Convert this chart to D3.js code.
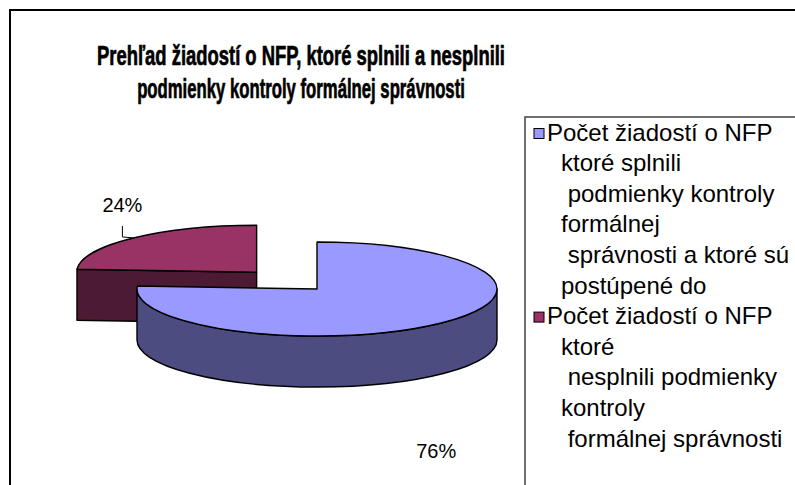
<!DOCTYPE html>
<html>
<head>
<meta charset="utf-8">
<script src="https://cdn.jsdelivr.net/npm/d3@7"></script>
<style>
  html, body { margin: 0; padding: 0; background: #fff; }
  svg { display: block; }
  text { font-family: "Liberation Sans", Arial, sans-serif; }
</style>
</head>
<body>
<svg id="chart" width="795" height="485"></svg>
<script>
// ---- data ----
const titleLines = [
  "Prehľad žiadostí o NFP, ktoré splnili a nesplnili",
  "podmienky kontroly formálnej správnosti"
];
const categories = [
  "Počet žiadostí o NFP ktoré splnili podmienky kontroly formálnej správnosti a ktoré sú postúpené do",
  "Počet žiadostí o NFP ktoré nesplnili podmienky kontroly formálnej správnosti"
];
const legendLines = [
  ["Počet žiadostí o NFP", "ktoré splnili", " podmienky kontroly", "formálnej", " správnosti a ktoré sú", "postúpené do"],
  ["Počet žiadostí o NFP", "ktoré", " nesplnili podmienky", "kontroly", " formálnej správnosti"]
];
const values = [76, 24];
const explodeFrac = [0, 0.49];
const topColors = ["#9999FF", "#993366"];
const sideColors = ["#4C4C80", "#4C1A33"];

// ---- layout ----
const svg = d3.select("#chart");
svg.append("rect").attr("x", 10).attr("y", 10).attr("width", 800).attr("height", 500)
  .attr("fill", "#fff").attr("stroke", "#000").attr("stroke-width", 2);

const titleWidths = [408, 328];
titleLines.forEach((t, i) => {
  const tg = svg.append("g").attr("transform", `translate(301,${65 + i * 33})`);
  const txt = tg.append("text")
    .attr("x", 0).attr("y", 0)
    .attr("text-anchor", "middle")
    .style("font-size", "27px").style("font-weight", "bold")
    .attr("fill", "#000").attr("stroke", "#000").attr("stroke-width", 0.7)
    .text(t);
  const w = txt.node().getComputedTextLength();
  txt.attr("transform", `scale(${titleWidths[i] / w},1)`);
});

// ---- 3D pie ----
const cx = 317, cy = 289, rx = 180, ry = 47, depth = 51;
const total = d3.sum(values);
const fmt = d3.format(".0%");
const arcs = d3.pie().sort(null).value(d => d)(values);

arcs.forEach((a, i) => {
  const mid = (a.startAngle + a.endAngle) / 2;
  a.mid = mid;
  a.ox = cx + explodeFrac[i] * rx * Math.sin(mid);
  a.oy = cy - explodeFrac[i] * ry * Math.cos(mid);
  a.i = i;
});
function pt(a, ang, dy) {
  return [a.ox + rx * Math.sin(ang), a.oy - ry * Math.cos(ang) + (dy || 0)];
}
const g = svg.append("g");
const order = arcs.slice().sort((p, q) => p.oy - q.oy);
order.forEach(a => {
  const s = a.startAngle, e = a.endAngle;
  function apply(sel) {
    return sel.attr("stroke", "#000").attr("stroke-width", 1.4).attr("stroke-linejoin", "round");
  }
  const faces = [];
  if (Math.sin(s) < -1e-6) faces.push(s);
  if (Math.sin(e) > 1e-6) faces.push(e);
  faces.forEach(ang => {
    const p = pt(a, ang), p2 = pt(a, ang, depth);
    const d = `M${a.ox},${a.oy}L${p[0]},${p[1]}L${p2[0]},${p2[1]}L${a.ox},${a.oy + depth}Z`;
    apply(g.append("path").attr("d", d).attr("fill", sideColors[a.i]));
  });
  const lo = Math.max(s, Math.PI / 2), hi = Math.min(e, 3 * Math.PI / 2);
  if (hi > lo) {
    const p1 = pt(a, lo), p2 = pt(a, hi), p3 = pt(a, hi, depth), p4 = pt(a, lo, depth);
    const d = `M${p1[0]},${p1[1]}A${rx},${ry} 0 0 1 ${p2[0]},${p2[1]}L${p3[0]},${p3[1]}A${rx},${ry} 0 0 0 ${p4[0]},${p4[1]}Z`;
    apply(g.append("path").attr("d", d).attr("fill", sideColors[a.i]));
  }
  const ps = pt(a, s), pe = pt(a, e);
  const large = (e - s) > Math.PI ? 1 : 0;
  const d = `M${a.ox},${a.oy}L${ps[0]},${ps[1]}A${rx},${ry} 0 ${large} 1 ${pe[0]},${pe[1]}Z`;
  apply(g.append("path").attr("d", d).attr("fill", topColors[a.i]));
});

// labels
arcs.forEach(a => {
  const anc = pt(a, a.mid);
  const label = fmt(a.value / total);
  if (Math.cos(a.mid) > 0) {
    const lx = anc[0] - 11;
    svg.append("path")
      .attr("d", `M${anc[0]},${anc[1]}L${lx},${anc[1] - 1}L${lx},${anc[1] - 12}`)
      .attr("fill", "none").attr("stroke", "#000").attr("stroke-width", 1);
    svg.append("text").attr("x", lx).attr("y", anc[1] - 26)
      .attr("text-anchor", "middle").style("font-size", "20px").text(label);
  } else {
    svg.append("text").attr("x", anc[0] - 4).attr("y", anc[1] + depth + 84)
      .attr("text-anchor", "middle").style("font-size", "20px").text(label);
  }
});

// ---- legend ----
const lg = svg.append("g");
lg.append("rect").attr("x", 525).attr("y", 117).attr("width", 300).attr("height", 400)
  .attr("fill", "#fff").attr("stroke", "#404040").attr("stroke-width", 1.5);
let lineIdx = 0;
const lh = 30.6;
categories.forEach((c, i) => {
  const y0 = 140.5 + lineIdx * lh;
  lg.append("rect").attr("x", 534).attr("y", y0 - 12).attr("width", 10).attr("height", 10)
    .attr("fill", topColors[i]).attr("stroke", "#000").attr("stroke-width", 1);
  legendLines[i].forEach((ln, j) => {
    lg.append("text")
      .attr("x", j === 0 ? 547 : 561)
      .attr("y", 140.5 + lineIdx * lh)
      .style("font-size", "24px")
      .style("white-space", "pre")
      .attr("xml:space", "preserve")
      .text(ln);
    lineIdx++;
  });
});
</script>
</body>
</html>
